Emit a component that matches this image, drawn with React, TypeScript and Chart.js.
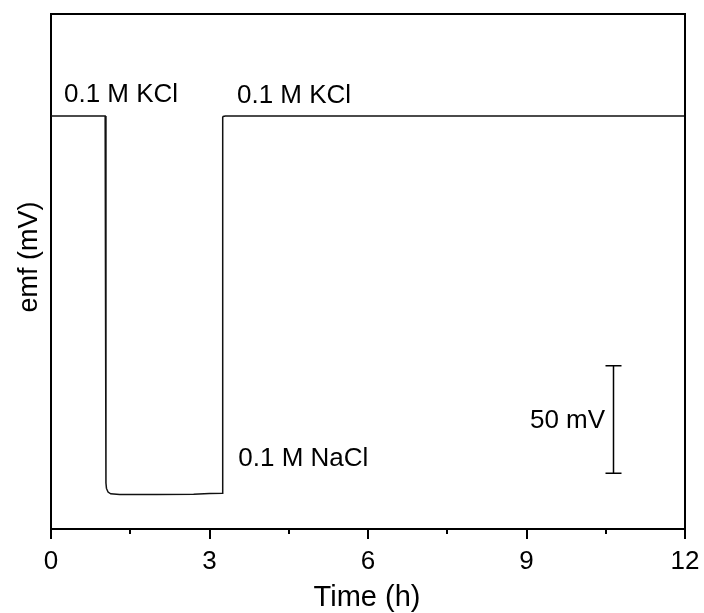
import React, { useEffect, useRef } from 'react';
import { Chart, registerables } from 'chart.js';

Chart.register(...registerables);

// Time (h) and emf (mV, relative to the 0.1 M KCl level)
const timeH = [0, 1.025, 1.04, 1.05, 1.08, 1.13, 1.3, 2.0, 2.7, 3.0, 3.237, 3.25, 3.26, 3.3, 12];
const emfMV = [0, 0, -171, -173.5, -175.2, -176.0, -176.3, -176.3, -176.2, -175.9, -175.8, -0.6, -0.2, 0, 0];

const xTicks = [0, 3, 6, 9, 12];
const xMinorTicks = [1.5, 4.5, 7.5, 10.5];

// text labels: [text, x (h), y (mV), align]
const labelTexts = ['0.1 M KCl', '0.1 M KCl', '0.1 M NaCl', '50 mV'];
const labelX = [0.246, 3.52, 3.545, 10.487];
const labelY = [6.5, 6.2, -163.1, -145.4];
const labelAlign = ['left', 'left', 'left', 'right'];

// scale bar: 50 mV
const barX = 10.64;
const barY = [-116.4, -166.4];

const FONT = '"Liberation Sans", Arial, Helvetica, sans-serif';

const overlay = {
  id: 'overlay',
  afterDraw(chart: any) {
    const { ctx, chartArea: a } = chart;
    const xs = chart.scales.x;
    const ys = chart.scales.y;
    ctx.save();
    ctx.strokeStyle = '#000';
    ctx.lineWidth = 2;
    // top and right frame
    ctx.beginPath();
    ctx.moveTo(a.left, a.top);
    ctx.lineTo(a.right, a.top);
    ctx.lineTo(a.right, a.bottom);
    ctx.stroke();
    // minor ticks
    ctx.beginPath();
    xMinorTicks.forEach((v) => {
      const px = Math.round(xs.getPixelForValue(v));
      ctx.moveTo(px, a.bottom);
      ctx.lineTo(px, a.bottom + 5);
    });
    ctx.stroke();
    // scale bar
    ctx.lineWidth = 1.5;
    const bx = Math.round(xs.getPixelForValue(barX)) + 0.5;
    const by0 = ys.getPixelForValue(barY[0]);
    const by1 = ys.getPixelForValue(barY[1]);
    ctx.beginPath();
    ctx.moveTo(bx, by0);
    ctx.lineTo(bx, by1);
    ctx.moveTo(bx - 8, by0);
    ctx.lineTo(bx + 8, by0);
    ctx.moveTo(bx - 8, by1);
    ctx.lineTo(bx + 8, by1);
    ctx.stroke();
    // labels
    ctx.fillStyle = '#000';
    ctx.font = `26px ${FONT}`;
    ctx.textBaseline = 'alphabetic';
    labelTexts.forEach((t, i) => {
      ctx.textAlign = labelAlign[i] as CanvasTextAlign;
      ctx.fillText(t, xs.getPixelForValue(labelX[i]), ys.getPixelForValue(labelY[i]));
    });
    // axis titles
    ctx.font = `29px ${FONT}`;
    ctx.textAlign = 'center';
    ctx.fillText('Time (h)', (a.left + a.right) / 2 - 1, 606);
    ctx.translate(37, 257);
    ctx.rotate(-Math.PI / 2);
    ctx.font = `27px ${FONT}`;
    ctx.fillText('emf (mV)', 0, 0);
    ctx.restore();
  },
};

export default function App() {
  const ref = useRef<HTMLCanvasElement>(null);
  useEffect(() => {
    if (!ref.current) return;
    const data = timeH.map((t, i) => ({ x: t, y: emfMV[i] }));
    const chart = new Chart(ref.current, {
      type: 'line',
      data: {
        datasets: [
          {
            data,
            borderColor: '#111',
            borderWidth: 1.5,
            pointRadius: 0,
            tension: 0,
            fill: false,
          },
        ],
      },
      options: {
        responsive: false,
        animation: false,
        layout: { padding: { top: 14, right: 19, left: 0, bottom: 0 } },
        plugins: { legend: { display: false }, tooltip: { enabled: false } },
        scales: {
          x: {
            type: 'linear',
            min: 0,
            max: 12,
            afterBuildTicks: (s: any) => {
              s.ticks = xTicks.map((v) => ({ value: v }));
            },
            afterFit: (s: any) => {
              s.height = 84;
              s.paddingLeft = 0;
              s.paddingRight = 0;
            },
            ticks: {
              autoSkip: false,
              maxRotation: 0,
              padding: 7,
              color: '#000',
              font: { size: 26, family: FONT },
            },
            grid: {
              display: true,
              drawOnChartArea: false,
              drawTicks: true,
              tickLength: 10,
              tickColor: '#000',
              lineWidth: 2,
            },
            border: { display: true, color: '#000', width: 2 },
          },
          y: {
            type: 'linear',
            min: -192.4,
            max: 47.5,
            afterFit: (s: any) => {
              s.width = 51;
              s.paddingTop = 0;
              s.paddingBottom = 0;
            },
            ticks: { display: false },
            grid: { display: false },
            border: { display: true, color: '#000', width: 2 },
          },
        },
      },
      plugins: [overlay],
    });
    return () => chart.destroy();
  }, []);
  return (
    <div style={{ position: 'fixed', left: 0, top: 0, width: 704, height: 613, background: '#fff' }}>
      <canvas ref={ref} width={704} height={613} style={{ display: 'block' }} />
    </div>
  );
}
